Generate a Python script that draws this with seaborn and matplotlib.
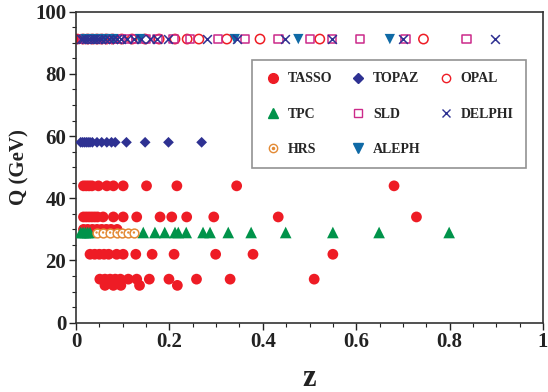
import matplotlib
matplotlib.use("Agg")
import matplotlib.pyplot as plt
from matplotlib.lines import Line2D
from matplotlib.legend_handler import HandlerTuple
from matplotlib.ticker import MultipleLocator
import seaborn as sns
import pandas as pd

sns.set_theme(style="white")
plt.rcParams['font.family'] = ['Liberation Serif', 'DejaVu Serif']
plt.rcParams['font.weight'] = 'bold'

# ---------------- data (z, Q) ----------------
tasso_z = [0.003,
           0.016, 0.022, 0.028, 0.034, 0.048, 0.066, 0.080, 0.101, 0.151, 0.216, 0.344, 0.681,
           0.016, 0.022, 0.028, 0.034, 0.040, 0.046, 0.058, 0.080, 0.101, 0.130, 0.180, 0.205, 0.237, 0.295, 0.433, 0.729,
           0.016, 0.025, 0.035, 0.045, 0.055, 0.065, 0.075, 0.088,
           0.030, 0.040, 0.050, 0.060, 0.070, 0.087, 0.101, 0.128, 0.163, 0.210, 0.299, 0.379, 0.550,
           0.051, 0.062, 0.073, 0.084, 0.095, 0.112, 0.130, 0.157, 0.199, 0.258, 0.330, 0.510,
           0.062, 0.080, 0.096, 0.136, 0.217]
tasso_q = [91.2] + [44.0] * 12 + [34.0] * 16 + [30.0] * 8 + [22.0] * 13 + [14.0] * 12 + [12.0] * 5

topaz_z = [0.010, 0.014, 0.018, 0.022, 0.026, 0.030, 0.035, 0.045, 0.055, 0.066, 0.076, 0.084,
           0.108, 0.148, 0.198, 0.269]
topaz_q = [58.0] * 16

tpc_z = [0.010, 0.015, 0.020, 0.025, 0.030, 0.144, 0.169, 0.190, 0.212, 0.219, 0.236, 0.272, 0.287,
         0.326, 0.375, 0.449, 0.550, 0.649, 0.799]
tpc_q = [29.0] * 19

hrs_z = [0.044, 0.058, 0.073, 0.087, 0.098, 0.112, 0.124]
hrs_q = [29.0] * 7

opal_z = [0.015, 0.025, 0.035, 0.045, 0.055, 0.065, 0.078, 0.098, 0.120, 0.148, 0.178, 0.212,
          0.238, 0.263, 0.323, 0.394, 0.522, 0.744]
opal_q = [91.2] * 18

sld_z = [0.015, 0.025, 0.035, 0.045, 0.055, 0.065, 0.080, 0.095, 0.110, 0.130, 0.150, 0.175,
         0.208, 0.244, 0.304, 0.362, 0.433, 0.501, 0.548, 0.608, 0.705, 0.837]
sld_q = [91.2] * 22

delphi_z = [0.010, 0.016, 0.022, 0.028, 0.034, 0.040, 0.047, 0.054, 0.062, 0.070, 0.079, 0.088,
            0.097, 0.110, 0.125, 0.140, 0.158, 0.173, 0.198, 0.280, 0.345, 0.447, 0.548, 0.700, 0.897]
delphi_q = [91.2] * 25

aleph_z = [0.020, 0.040, 0.060, 0.080, 0.137, 0.340, 0.476, 0.672]
aleph_q = [91.2] * 8

x_ticks = [0, 0.2, 0.4, 0.6, 0.8, 1]
x_tick_labels = ["0", "0.2", "0.4", "0.6", "0.8", "1"]
y_ticks = [0, 20, 40, 60, 80, 100]

RED = "#ee1c25"
NAVY = "#2e3192"
GREEN = "#00934a"
MAGENTA = "#cc2a8a"
ORANGE = "#e38a35"
BLUE = "#0f6aa6"

fig = plt.figure(figsize=(5.48, 3.92), dpi=100)
ax = fig.add_axes([0.1387, 0.1768, 0.8522, 0.7934])

def df(z, q):
    return pd.DataFrame({"z": z, "Q": q})

sns.scatterplot(data=df(tasso_z, tasso_q), x="z", y="Q", ax=ax, marker="o", s=60,
                color=RED, edgecolor="none", zorder=2)
sns.scatterplot(data=df(topaz_z, topaz_q), x="z", y="Q", ax=ax, marker="D", s=30,
                color=NAVY, edgecolor="none", zorder=3)
sns.scatterplot(data=df(tpc_z, tpc_q), x="z", y="Q", ax=ax, marker="^", s=70,
                color=GREEN, edgecolor="none", zorder=3)
sns.scatterplot(data=df(hrs_z, hrs_q), x="z", y="Q", ax=ax, marker="o", s=40,
                facecolor="white", edgecolor=ORANGE, linewidth=1.1, zorder=4)
sns.scatterplot(data=df(hrs_z, hrs_q), x="z", y="Q", ax=ax, marker="o", s=3,
                color=ORANGE, edgecolor="none", zorder=5)
sns.scatterplot(data=df(opal_z, opal_q), x="z", y="Q", ax=ax, marker="o", s=45,
                facecolor="none", edgecolor=RED, linewidth=1.1, zorder=3)
sns.scatterplot(data=df(sld_z, sld_q), x="z", y="Q", ax=ax, marker="s", s=40,
                facecolor="none", edgecolor=MAGENTA, linewidth=1.1, zorder=3)
sns.scatterplot(data=df(aleph_z, aleph_q), x="z", y="Q", ax=ax, marker="v", s=55,
                color=BLUE, edgecolor="none", zorder=4)
sns.scatterplot(data=df(delphi_z, delphi_q), x="z", y="Q", ax=ax, marker="x", s=40,
                color=NAVY, linewidth=1.1, zorder=5)

ax.set_xlim(0, 1)
ax.set_ylim(0, 100)
ax.set_xticks(x_ticks)
ax.set_xticklabels(x_tick_labels)
ax.set_yticks(y_ticks)
ax.xaxis.set_minor_locator(MultipleLocator(0.05))
ax.yaxis.set_minor_locator(MultipleLocator(5))
ax.tick_params(axis="both", which="major", direction="out", length=5, width=1.0,
               labelsize=15, colors="#222222", pad=2, bottom=True, left=True)
ax.tick_params(axis="both", which="minor", direction="out", length=3, width=0.8,
               bottom=True, left=True, colors="#222222")
for lab in ax.get_xticklabels() + ax.get_yticklabels():
    lab.set_fontweight("bold")
    lab.set_color("#222222")
for sp in ax.spines.values():
    sp.set_linewidth(1.2)
    sp.set_color("#333333")

ax.set_xlabel("z", fontsize=22, fontweight="bold", color="#222222", labelpad=8)
ax.set_ylabel("Q (GeV)", fontsize=15, fontweight="bold", color="#222222", labelpad=4)

def h(marker, ms, color, fill=True, mew=1.0):
    return Line2D([], [], linestyle="none", marker=marker, markersize=ms,
                  markerfacecolor=color if fill else "none", markeredgecolor=color,
                  markeredgewidth=mew)

h_tasso = h("o", 7, RED)
h_topaz = h("D", 5, NAVY)
h_opal = h("o", 6, RED, fill=False)
h_tpc = h("^", 7, GREEN)
h_sld = h("s", 6, MAGENTA, fill=False)
h_delphi = h("x", 6, NAVY)
h_hrs = (h("o", 6, ORANGE, fill=False), h("o", 1.5, ORANGE))
h_aleph = h("v", 7, BLUE)

handles = [h_tasso, h_tpc, h_hrs, h_topaz, h_sld, h_aleph, h_opal, h_delphi]
labels = ["TASSO", "TPC", "HRS", "TOPAZ", "SLD", "ALEPH", "OPAL", "DELPHI"]
leg = ax.legend(handles, labels, ncol=3, loc="upper left",
                bbox_to_anchor=((252 - 76) / 467, (322.7 - 60) / 311),
                frameon=True, fancybox=False, edgecolor="#777777",
                prop={"family": "Liberation Serif", "weight": "bold", "size": 10},
                handler_map={tuple: HandlerTuple(ndivide=1, pad=0)},
                labelspacing=1.6, columnspacing=1.2, handletextpad=0.5,
                handlelength=1.2, borderpad=0.9, borderaxespad=0)
leg.get_frame().set_linewidth(1.2)
leg.set_zorder(10)

fig.savefig("out.png", dpi=100)
